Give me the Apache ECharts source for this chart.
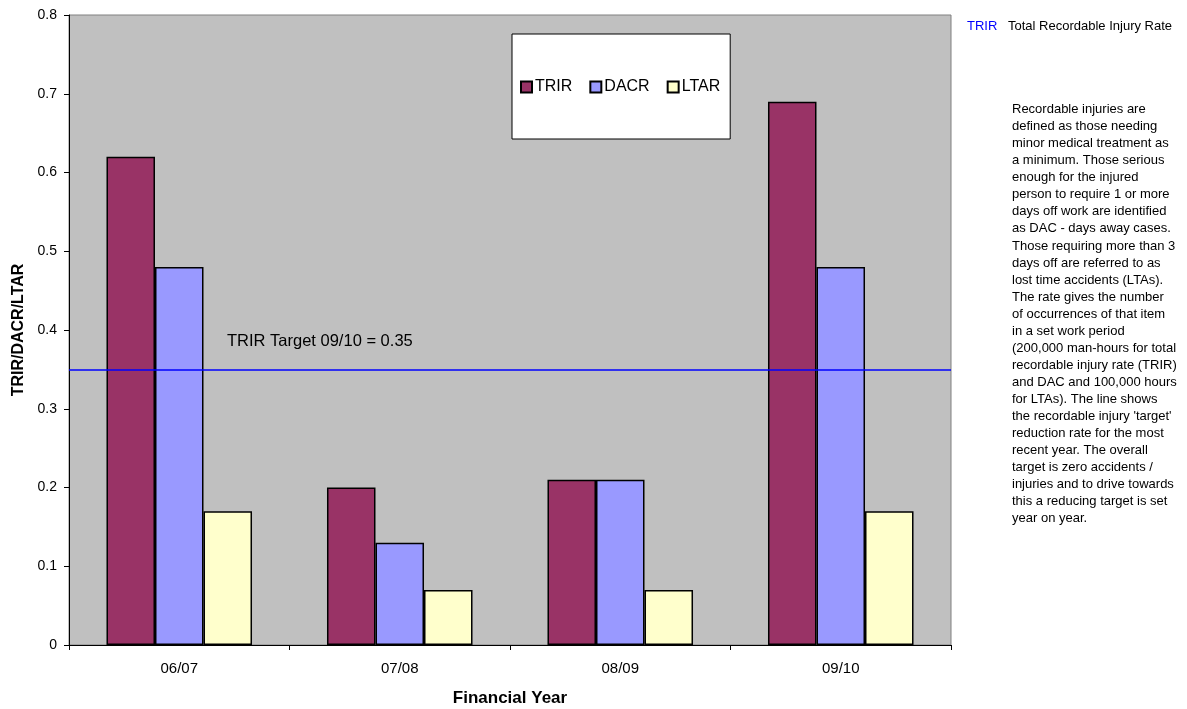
<!DOCTYPE html>
<html>
<head>
<meta charset="utf-8">
<style>
  html, body { margin: 0; padding: 0; background: #ffffff; }
  #chart { width: 1187px; height: 709px; }
</style>
<script src="https://cdn.jsdelivr.net/npm/echarts@6/dist/echarts.min.js"></script>
</head>
<body>
<div id="chart"></div>
<script>
// Safety performance by financial year
const years = ['06/07', '07/08', '08/09', '09/10'];
const trir = [0.62, 0.20, 0.21, 0.69];
const dacr = [0.48, 0.13, 0.21, 0.48];
const ltar = [0.17, 0.07, 0.07, 0.17];
const trirTarget = 0.35;

const noteLines = [
  'Recordable injuries are',
  'defined as those needing',
  'minor medical treatment as',
  'a minimum. Those serious',
  'enough for the injured',
  'person to require 1 or more',
  'days off work are identified',
  'as DAC - days away cases.',
  'Those requiring more than 3',
  'days off are referred to as',
  'lost time accidents (LTAs).',
  'The rate gives the number',
  'of occurrences of that item',
  'in a set work period',
  '(200,000 man-hours for total',
  'recordable injury rate (TRIR)',
  'and DAC and 100,000 hours',
  'for LTAs). The line shows',
  "the recordable injury 'target'",
  'reduction rate for the most',
  'recent year. The overall',
  'target is zero accidents /',
  'injuries and to drive towards',
  'this a reducing target is set',
  'year on year.'
];

const FONT = 'Arial, "Liberation Sans", sans-serif';
const TARGET_BLUE = '#0000ff';
const chart = echarts.init(document.getElementById('chart'));

const barStyle = (color) => ({ color: color, borderColor: '#000000', borderWidth: 1.5 });

chart.setOption({
  animation: false,
  textStyle: { fontFamily: FONT, color: '#000000' },
  grid: {
    left: 69, top: 15, width: 882, height: 630,
    outerBoundsMode: 'none',
    containLabel: false,
    show: true, backgroundColor: '#c0c0c0', borderColor: '#808080', borderWidth: 1
  },
  legend: {
    left: 512, top: 34,
    padding: [45, 10, 44, 8],
    backgroundColor: '#ffffff', borderColor: '#000000', borderWidth: 1,
    itemWidth: 11, itemHeight: 11, itemGap: 17,
    icon: 'rect',
    textStyle: { fontSize: 16, color: '#000000', fontFamily: FONT, padding: [0, 0, 0, -2] },
    data: ['TRIR', 'DACR', 'LTAR']
  },
  xAxis: {
    type: 'category',
    data: years,
    name: 'Financial Year',
    nameLocation: 'middle',
    nameGap: 45,
    nameTextStyle: { fontSize: 17, fontWeight: 'bold', color: '#000000', fontFamily: FONT },
    axisLine: { lineStyle: { color: '#000000', width: 1 } },
    axisTick: { show: true, length: 5, lineStyle: { color: '#000000' } },
    axisLabel: { fontSize: 15, color: '#000000', margin: 16, fontFamily: FONT },
    splitLine: { show: false }
  },
  yAxis: {
    type: 'value',
    min: 0, max: 0.8, interval: 0.1,
    name: 'TRIR/DACR/LTAR',
    nameLocation: 'middle',
    nameGap: 42,
    nameTextStyle: { fontSize: 16, fontWeight: 'bold', color: '#000000', fontFamily: FONT },
    axisLine: { show: true, lineStyle: { color: '#000000', width: 1 } },
    axisTick: { show: true, length: 5, lineStyle: { color: '#000000' } },
    axisLabel: {
      fontSize: 14, color: '#000000', margin: 12, fontFamily: FONT,
      formatter: (v) => (Math.round(v * 10) / 10).toString()
    },
    splitLine: { show: false }
  },
  series: [
    {
      name: 'TRIR', type: 'bar', data: trir,
      barGap: '0%', barCategoryGap: '34%',
      itemStyle: barStyle('#993366'),
      markLine: {
        silent: true,
        symbol: ['none', 'none'],
        lineStyle: { color: TARGET_BLUE, width: 1.5, type: 'solid', opacity: 1 },
        emphasis: { disabled: true },
        label: {
          show: true,
          position: 'insideStartTop',
          distance: [158, 19],
          formatter: 'TRIR Target 09/10 = ' + trirTarget.toFixed(2),
          fontSize: 16.5, color: '#000000', fontFamily: FONT
        },
        data: [{ yAxis: trirTarget }]
      }
    },
    { name: 'DACR', type: 'bar', data: dacr, itemStyle: barStyle('#9999ff') },
    { name: 'LTAR', type: 'bar', data: ltar, itemStyle: barStyle('#ffffcc') }
  ],
  graphic: [
    {
      type: 'text', left: 967, top: 20,
      style: { text: 'TRIR', fontSize: 13, fill: TARGET_BLUE, fontFamily: FONT }
    },
    {
      type: 'text', left: 1008, top: 20,
      style: { text: 'Total Recordable Injury Rate', fontSize: 13, fill: '#000000', fontFamily: FONT }
    },
    {
      type: 'text', left: 1012, top: 101,
      style: {
        text: noteLines.join('\n'),
        fontSize: 13, lineHeight: 17.05, fill: '#000000', fontFamily: FONT
      }
    }
  ]
});
</script>
</body>
</html>
